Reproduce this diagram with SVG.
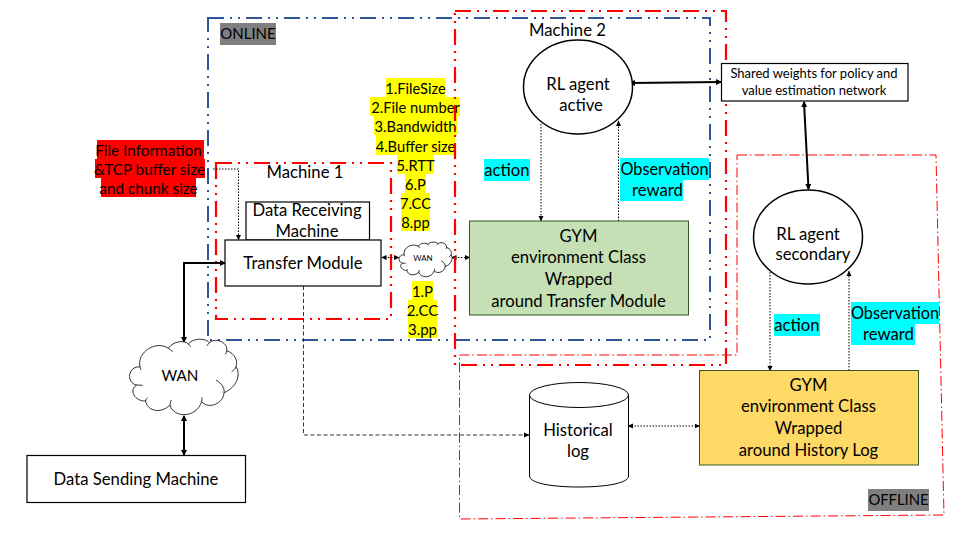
<svg xmlns="http://www.w3.org/2000/svg" xmlns:xlink="http://www.w3.org/1999/xlink" width="960" height="540" viewBox="0 0 960 540">
<style>
text{font-family:"Lato","Open Sans","Liberation Sans",sans-serif;font-size:16.700px;fill:#000;text-anchor:middle}
.s{font-size:15px}
.box{fill:#fff;stroke:#000;stroke-width:1.2}
.c2{fill:none;stroke:#000;stroke-width:2;marker-end:url(#a);marker-start:url(#b)}
.d{fill:none;stroke:#000;stroke-width:1;stroke-dasharray:1.5 1.5;marker-end:url(#a2)}
.dd{fill:none;stroke:#000;stroke-width:1;stroke-dasharray:1.5 1.5;marker-end:url(#a2);marker-start:url(#b2)}
.dash{fill:none;stroke:#333;stroke-width:1;stroke-dasharray:4 2.5;marker-end:url(#a2)}
.blue{fill:none;stroke:#2f5597;stroke-width:2;stroke-dasharray:16 6 2 6 2 6}
.red{fill:none;stroke:#f00;stroke-width:2.200;stroke-dasharray:16 6 2 6 2 6}
.thin{fill:none;stroke:#f00;stroke-width:1;stroke-dasharray:10 3 1.500 3}
.y{fill:#ff0}.r{fill:#f00}.cy{fill:#0ff}.g{fill:#7f7f7f}
.cl{fill:#fff;stroke:#000;stroke-width:.8;vector-effect:non-scaling-stroke}
.cli{fill:none;stroke:#000;stroke-width:.8;vector-effect:non-scaling-stroke}
</style>
<defs>
<marker id="a" markerWidth="6" markerHeight="6" refX="5" refY="3" orient="auto" markerUnits="userSpaceOnUse"><path d="M0,0L6,3L0,6z"/></marker>
<marker id="b" markerWidth="6" markerHeight="6" refX="1" refY="3" orient="auto" markerUnits="userSpaceOnUse"><path d="M6,0L0,3L6,6z"/></marker>
<marker id="a2" markerWidth="6" markerHeight="6" refX="5" refY="3" orient="auto" markerUnits="userSpaceOnUse"><path d="M0,0.500L5.500,3L0,5.500z"/></marker>
<marker id="b2" markerWidth="6" markerHeight="6" refX="1" refY="3" orient="auto" markerUnits="userSpaceOnUse"><path d="M5.500,0.500L0,3L5.500,5.500z"/></marker>
<g id="cloud"><path class="cl" d="M420,140C410,95 470,60 505,85C520,62 555,60 565,72C580,52 620,55 628,68C650,50 685,70 680,92C705,100 715,125 708,140C722,160 715,200 672,218C672,250 625,270 605,245C590,295 520,295 510,255C480,285 440,270 437,243C405,245 385,210 410,195C380,190 380,140 420,140Z"/>
<path class="cli" d="M648,180C665,190 675,205 672,218M695,155C702,150 708,145 708,140M680,92C680,97 678,100 676,103M628,68C625,72 622,75 620,78M565,72C568,75 570,78 572,80M505,85C510,88 515,92 518,95M420,140C420,143 422,147 424,150M410,195C415,195 422,196 428,196M437,243C437,240 440,235 442,233M510,255C510,250 512,245 514,240M605,245C606,240 606,235 606,232"/></g>
</defs>

<g id="online-region"><rect class="blue" x="208" y="18" width="502" height="322"/>
<rect class="g" x="220" y="23" width="56" height="22"/><text class="s" x="248" y="39">ONLINE</text></g>
<g id="offline-region"><path class="thin" d="M737,155H936L944,515L459.500,519V355H737Z"/>
<rect class="g" x="868" y="489" width="61" height="22"/><text style="font-size:14.800px" x="898.500" y="505">OFFLINE</text></g>
<g id="machine-1"><rect class="red" x="216" y="163" width="175" height="156"/><text x="305" y="178">Machine 1</text></g>

<g id="connectors">
<path class="c2" d="M225,263H184V342"/>
<path class="c2" d="M184,416V455"/>
<path class="d" d="M213,169H238.500V240"/>
<path class="dd" d="M382,257.500H399"/>
<path class="dd" d="M452,257.500H470"/>
<path class="dash" d="M303.500,286V435H529"/>
<path class="d" d="M541,124V221"/>
<path class="d" d="M618.500,221V121"/>
<path class="c2" d="M630,83L721,82"/>
<path class="c2" d="M804,102L808.500,189"/>
<path class="d" d="M770,272V371"/>
<path class="d" d="M849,370.500V271"/>
<path class="dd" d="M628.500,426H699.500"/>
</g>

<g id="labels-state">
<rect class="y" x="386" y="78" width="59" height="19"/><rect class="y" x="370" y="97" width="90" height="19"/><rect class="y" x="374" y="116" width="83" height="19"/><rect class="y" x="376" y="135" width="79" height="20"/><rect class="y" x="397" y="155" width="37" height="19"/><rect class="y" x="405" y="174" width="21" height="19"/><rect class="y" x="401" y="193" width="29" height="19"/><rect class="y" x="401" y="212" width="29" height="19"/>
<g style="font-size:14.700px"><text style="font-size:inherit" x="415.500" y="94">1.FileSize</text><text style="font-size:inherit" x="415.500" y="113">2.File number</text><text style="font-size:inherit" x="415.500" y="132">3.Bandwidth</text><text style="font-size:inherit" x="415.500" y="152">4.Buffer size</text><text style="font-size:inherit" x="415.500" y="171">5.RTT</text><text style="font-size:inherit" x="415.500" y="190">6.P</text><text style="font-size:inherit" x="415.500" y="209">7.CC</text><text style="font-size:inherit" x="415.500" y="228">8.pp</text></g>
</g>
<g id="labels-action">
<rect class="y" x="412" y="281" width="21" height="19"/><rect class="y" x="408" y="300" width="29" height="19"/><rect class="y" x="408" y="319" width="29" height="19"/>
<text class="s" x="422.500" y="297">1.P</text><text class="s" x="422.500" y="316">2.CC</text><text class="s" x="422.500" y="335">3.pp</text>
</g>
<g id="labels-file">
<rect class="r" x="97" y="140" width="107" height="19"/><rect class="r" x="95" y="159" width="110" height="19"/><rect class="r" x="101" y="178" width="95" height="19"/>
<text style="font-size:15.300px" x="148.500" y="156">File Information</text><text style="font-size:15.300px" x="149.500" y="175">&amp;TCP buffer size</text><text style="font-size:15.300px" x="148.500" y="194">and chunk size</text>
</g>
<g id="label-action-1"><rect class="cy" x="484" y="159" width="46" height="22"/><text x="507" y="176">action</text></g>
<g id="label-observation-1"><rect class="cy" x="620" y="158" width="89" height="22"/><rect class="cy" x="620" y="180" width="63" height="21"/><text style="font-size:16.300px" x="664.500" y="175">Observation</text><text x="657.500" y="196">reward</text></g>
<g id="label-action-2"><rect class="cy" x="774" y="314" width="46" height="22"/><text x="797" y="331">action</text></g>
<g id="label-observation-2"><rect class="cy" x="851" y="302" width="88" height="22"/><rect class="cy" x="851" y="324" width="64" height="21"/><text style="font-size:16.300px" x="895" y="319">Observation</text><text x="888.500" y="340">reward</text></g>

<g id="machine-2"><rect class="red" x="455" y="11" width="271" height="354"/><text x="567.500" y="36">Machine 2</text></g>

<g id="data-receiving-machine"><rect class="box" x="246" y="202" width="123.500" height="38"/><text x="307" y="216">Data Receiving</text><text x="307" y="237">Machine</text></g>
<g id="transfer-module"><rect class="box" x="225" y="240" width="156" height="46"/><text x="303" y="269">Transfer Module</text></g>
<g id="data-sending-machine"><rect class="box" x="27" y="455.500" width="218.500" height="47"/><text x="136" y="485">Data Sending Machine</text></g>
<g id="shared-weights"><rect class="box" x="721.500" y="63.500" width="186.500" height="37.500"/><text style="font-size:13px" x="814" y="78">Shared weights for policy and</text><text style="font-size:13px" x="814" y="95">value estimation network</text></g>
<g id="gym-transfer"><rect x="469.500" y="221" width="219" height="94" fill="#c5e0b4" stroke="#385723" stroke-width="1"/><text x="578.500" y="242">GYM</text><text x="578.500" y="263">environment Class</text><text x="578.500" y="285">Wrapped</text><text x="578.500" y="307">around Transfer Module</text></g>
<g id="gym-history"><rect x="699.500" y="370.500" width="219" height="94.500" fill="#ffd966" stroke="#385723" stroke-width="1"/><text x="808.500" y="391">GYM</text><text x="808.500" y="412">environment Class</text><text x="808.500" y="434">Wrapped</text><text x="808.500" y="456">around History Log</text></g>
<g id="rl-active"><ellipse cx="578" cy="87" rx="54.500" ry="47" fill="#fff" stroke="#000" stroke-width="1.500"/><text x="578" y="90">RL agent</text><text x="581" y="111">active</text></g>
<g id="rl-secondary"><ellipse cx="808" cy="237" rx="54.500" ry="47" fill="#fff" stroke="#000" stroke-width="1.500"/><text x="808" y="240">RL agent</text><text x="813" y="260">secondary</text></g>
<g id="historical-log"><path d="M529.500,395V476C529.500,483 551,487 579,487S628.500,483 628.500,476V395" fill="#fff" stroke="#000"/><ellipse cx="579" cy="395" rx="49.500" ry="12.500" fill="#fff" stroke="#000"/><text x="578" y="436">Historical</text><text x="578" y="457">log</text></g>
<g id="wan-large"><use xlink:href="#cloud" transform="translate(0,320) scale(0.3333)"/><text style="font-size:15.200px" x="180" y="381">WAN</text></g>
<g id="wan-small"><use xlink:href="#cloud" transform="translate(335.900,233.300) scale(0.1626,0.153)"/><text style="font-size:8px" x="423" y="261">WAN</text></g>
</svg>
